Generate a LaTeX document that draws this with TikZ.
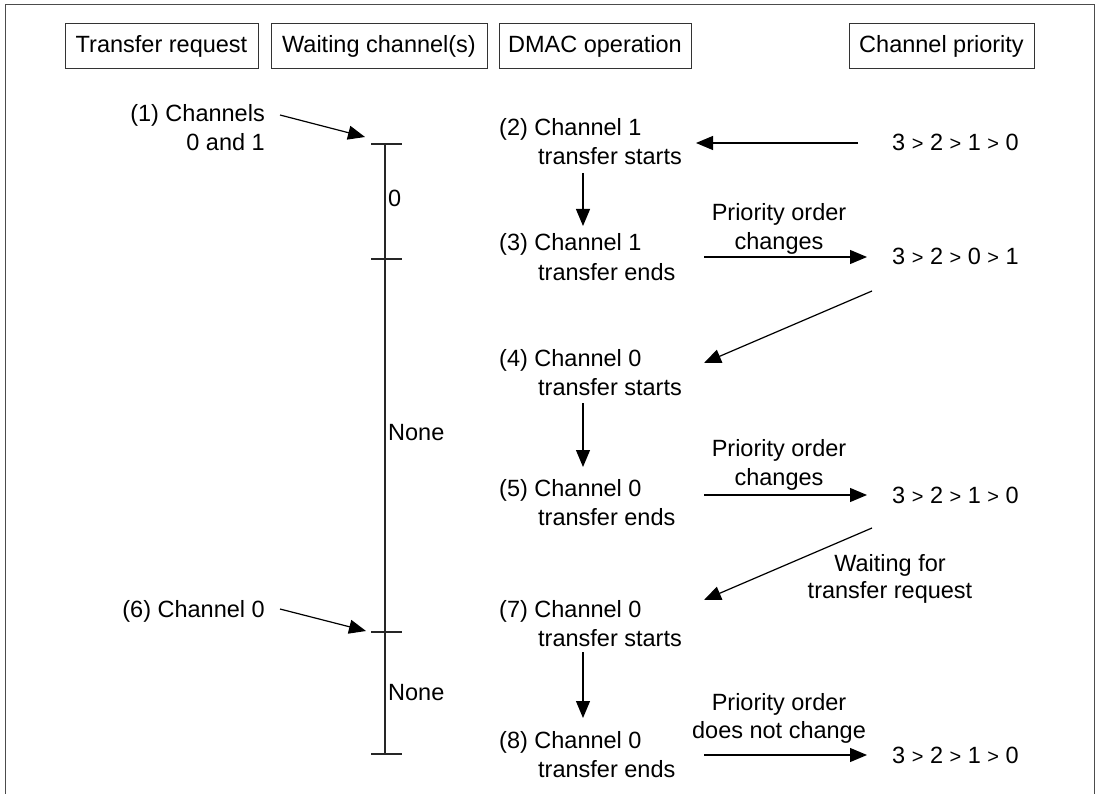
\documentclass[tikz,border=0pt]{standalone}
\usepackage{fontspec}
\setmainfont{Liberation Sans}
\usetikzlibrary{arrows.meta}
\newcommand{\pgt}{{\fontsize{20}{20}\selectfont >}}
\begin{document}
\begin{tikzpicture}[x=1pt,y=-1pt,
  every node/.style={inner sep=0pt, font=\fontsize{23.5}{28}\selectfont},
  hdr/.style={draw=black!80, line width=1pt, minimum height=45pt, anchor=center},
  txt/.style={anchor=base west},
  rtxt/.style={anchor=base east},
  ctxt/.style={anchor=base},
  arr/.style={line width=1.2pt, -{Triangle[length=17pt,width=14pt]}},
  tl/.style={line width=1.2pt, draw=black!85},
]
\useasboundingbox (0,0) rectangle (1100,794);
\draw[line width=1pt, black!70] (5,794) -- (5,5) -- (1094,5) -- (1094,794);

% header boxes
\node[hdr, minimum width=193pt] (h1) at (161.5,46.5) {Transfer request};
\node[hdr, minimum width=216pt] (h2) at (379,46.5) {Waiting channel(s)};
\node[hdr, minimum width=192pt] (h3) at (595,46.5) {DMAC operation};
\node[hdr, minimum width=185pt] (h4) at (941.5,46.5) {Channel priority};

% timeline
\coordinate (t1) at (385,144);
\coordinate (t2) at (385,259);
\coordinate (t3) at (385,632);
\coordinate (t4) at (385,754);
\draw[tl] (t1) -- (t4);
\foreach \t in {t1,t2,t3,t4} \draw[tl] ([xshift=-14pt]\t) -- ([xshift=17pt]\t);
\node[txt] (w0) at (388,207) {0};
\node[txt] (w1) at (388,440) {None};
\node[txt] (w2) at (388,700) {None};

% transfer requests
\node[rtxt] (r1a) at (265,122) {(1) Channels};
\node[rtxt] (r1b) at (265,151) {0 and 1};
\node[rtxt] (r6) at (265,617) {(6) Channel 0};
\coordinate (a1s) at (280,115);
\coordinate (a1e) at (365,137);
\coordinate (a6s) at (280,609);
\coordinate (a6e) at (366,631);
\draw[arr] (a1s) -- (a1e);
\draw[arr] (a6s) -- (a6e);

% DMAC operation
\node[txt] (d2a) at (499,136) {(2) Channel 1};
\node[txt] (d2b) at (538,165) {transfer starts};
\node[txt] (d3a) at (499,251) {(3) Channel 1};
\node[txt] (d3b) at (538,280) {transfer ends};
\node[txt] (d4a) at (499,366) {(4) Channel 0};
\node[txt] (d4b) at (538,395) {transfer starts};
\node[txt] (d5a) at (499,496) {(5) Channel 0};
\node[txt] (d5b) at (538,525) {transfer ends};
\node[txt] (d7a) at (499,617) {(7) Channel 0};
\node[txt] (d7b) at (538,646) {transfer starts};
\node[txt] (d8a) at (499,748) {(8) Channel 0};
\node[txt] (d8b) at (538,777) {transfer ends};

\coordinate (v1s) at (583,173); \coordinate (v1e) at (583,226);
\coordinate (v2s) at (583,403); \coordinate (v2e) at (583,467);
\coordinate (v3s) at (583,652); \coordinate (v3e) at (583,718);
\draw[arr] (v1s) -- (v1e);
\draw[arr] (v2s) -- (v2e);
\draw[arr] (v3s) -- (v3e);

% channel priority
\node[txt] (p0) at (892,151) {3 \pgt{} 2 \pgt{} 1 \pgt{} 0};
\node[txt] (p1) at (892,265) {3 \pgt{} 2 \pgt{} 0 \pgt{} 1};
\node[txt] (p2) at (892,503) {3 \pgt{} 2 \pgt{} 1 \pgt{} 0};
\node[txt] (p3) at (892,763) {3 \pgt{} 2 \pgt{} 1 \pgt{} 0};

\coordinate (h0s) at (858,143); \coordinate (h0e) at (696,143);
\coordinate (h1s) at (704,257); \coordinate (h1e) at (867,257);
\coordinate (h2s) at (704,495); \coordinate (h2e) at (867,495);
\coordinate (h3s) at (704,755); \coordinate (h3e) at (867,755);
\draw[arr] (h0s) -- (h0e);
\draw[arr] (h1s) -- (h1e);
\draw[arr] (h2s) -- (h2e);
\draw[arr] (h3s) -- (h3e);

\node[ctxt] (l1a) at (779,221) {Priority order};
\node[ctxt] (l1b) at (779,250) {changes};
\node[ctxt] (l2a) at (779,456) {Priority order};
\node[ctxt] (l2b) at (779,485) {changes};
\node[ctxt] (l3a) at (779,710) {Priority order};
\node[ctxt] (l3b) at (779,738) {does not change};

\coordinate (g1s) at (872,291); \coordinate (g1e) at (704,363);
\coordinate (g2s) at (872,528); \coordinate (g2e) at (704,600);
\draw[arr] (g1s) -- (g1e);
\draw[arr] (g2s) -- (g2e);

\node[ctxt] (wa) at (890,571) {Waiting for};
\node[ctxt] (wb) at (890,598) {transfer request};
\end{tikzpicture}
\end{document}
